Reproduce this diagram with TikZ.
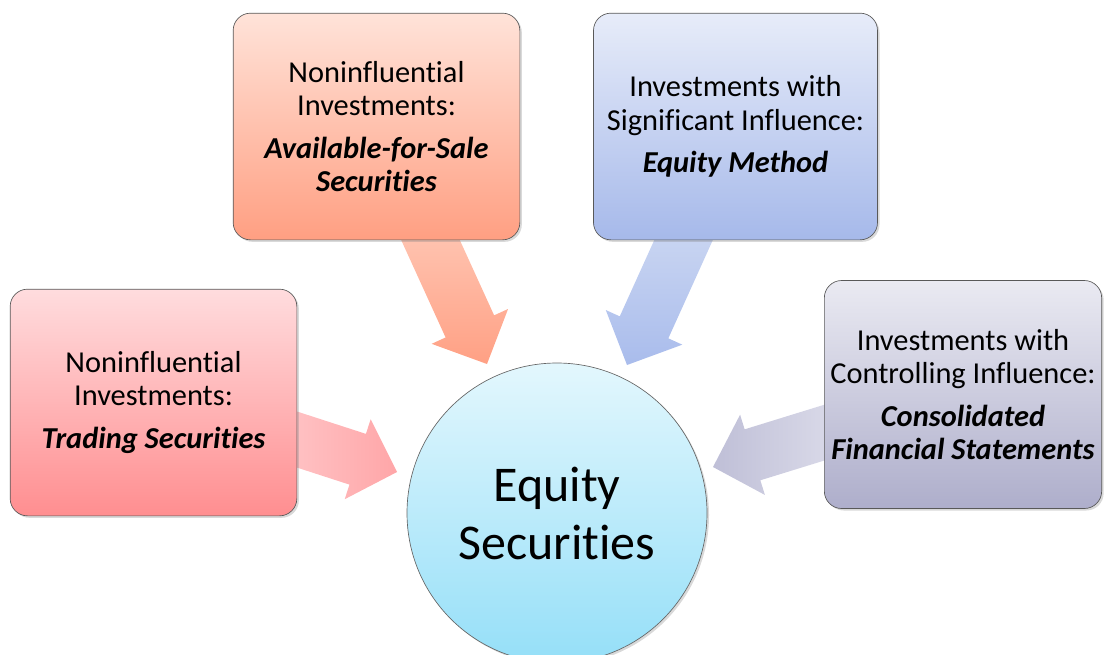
\documentclass[tikz,border=0pt]{standalone}
\usepackage{fontspec}
\setmainfont{Carlito}[Ligatures={NoCommon}]
\usetikzlibrary{calc,shadows}
\definecolor{tsTop}{HTML}{FFDCDE}
\definecolor{tsBot}{HTML}{FF8E90}
\definecolor{afTop}{HTML}{FFE3D9}
\definecolor{afBot}{HTML}{FF9F82}
\definecolor{emTop}{HTML}{E7ECF9}
\definecolor{emBot}{HTML}{A6B9EA}
\definecolor{cfTop}{HTML}{EAEAF2}
\definecolor{cfBot}{HTML}{AEAECB}
\definecolor{esTop}{HTML}{E3F7FD}
\definecolor{esBot}{HTML}{95DFF8}
\definecolor{arTsA}{HTML}{FFC6C8}
\definecolor{arTsB}{HTML}{FFA6A8}
\definecolor{arAfA}{HTML}{FFC8B6}
\definecolor{arAfB}{HTML}{FFA084}
\definecolor{arEmA}{HTML}{CDD8F2}
\definecolor{arEmB}{HTML}{A9BCEC}
\definecolor{arCfA}{HTML}{DCDCEA}
\definecolor{arCfB}{HTML}{BFBFD7}
\newcommand{\blockarrow}[3]{%
  \coordinate (hb) at ($(#2)!31pt!(#1)$);
  \shade[#3]
    ($(#1)!20pt!90:(#2)$) -- ($(hb)!20pt!-90:(#1)$) -- ($(hb)!31.5pt!-90:(#1)$)
    -- (#2) -- ($(hb)!31.5pt!90:(#1)$) -- ($(hb)!20pt!90:(#1)$)
    -- ($(#1)!20pt!-90:(#2)$) -- cycle;
}
\tikzset{
  box/.style={draw=black!65, line width=0.5pt, rounded corners=13pt,
    minimum width=215pt, minimum height=170pt, align=center, inner sep=0pt,
    font=\fontsize{22.8}{24.8}\selectfont,
    drop shadow={opacity=0.3, shadow xshift=1.5pt, shadow yshift=-1.5pt}},
  hub/.style={circle, draw=black!60, line width=0.5pt, minimum size=225pt,
    align=center, inner sep=0pt, font=\fontsize{37.5}{43.5}\selectfont,
    top color=esTop, bottom color=esBot,
    drop shadow={opacity=0.3, shadow xshift=1.5pt, shadow yshift=-1.5pt}}
}
\begin{document}
\begin{tikzpicture}[x=0.75pt,y=-0.75pt]
\useasboundingbox (0,0) rectangle (1106,654);
% anchor coordinates for connectors
\coordinate (tsout) at (283,435);
\coordinate (tstip) at (397,472);
\coordinate (afout) at (425,228);
\coordinate (aftip) at (487,364);
\coordinate (emout) at (689,228);
\coordinate (emtip) at (627,365);
\coordinate (cfout) at (836,429);
\coordinate (cftip) at (713,467);
% arrows
\blockarrow{tsout}{tstip}{left color=arTsA, right color=arTsB}
\blockarrow{afout}{aftip}{top color=arAfA, bottom color=arAfB}
\blockarrow{emout}{emtip}{top color=arEmA, bottom color=arEmB}
\blockarrow{cfout}{cftip}{right color=arCfA, left color=arCfB}
% nodes
\node[box, top color=tsTop, bottom color=tsBot] (ts) at (153.5,402.5)
  {Noninfluential\\Investments:\\[7pt]{\bfseries\itshape Trading Securities}};
\node[box, top color=afTop, bottom color=afBot] (af) at (376.5,126.5)
  {Noninfluential\\Investments:\\[7pt]{\bfseries\itshape Available-for-Sale}\\{\bfseries\itshape Securities}};
\node[box, top color=emTop, bottom color=emBot, minimum width=213pt] (emth) at (735.5,126.5)
  {Investments with\\Significant Influence:\\[7pt]{\bfseries\itshape Equity Method}};
\node[box, top color=cfTop, bottom color=cfBot, minimum width=208pt, minimum height=171pt] (cf) at (963,394.5)
  {Investments with\\Controlling Influence:\\[7pt]{\bfseries\itshape Consolidated}\\{\bfseries\itshape Financial Statements}};
\node[hub] (es) at (557,513) {Equity\\Securities};
\end{tikzpicture}
\end{document}
